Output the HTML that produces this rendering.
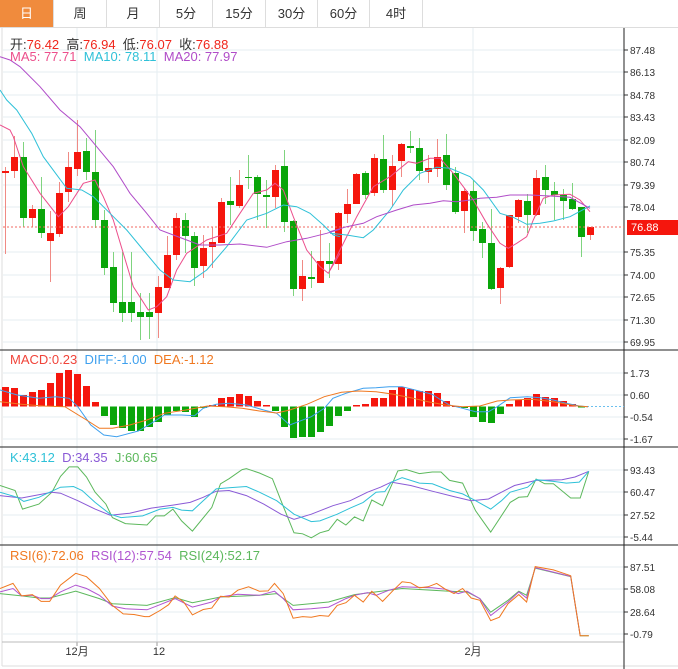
<!DOCTYPE html>
<html><head><meta charset="utf-8">
<style>
body{margin:0;background:#fff;width:678px;height:669px;overflow:hidden;font-family:"Liberation Sans","Noto Sans CJK SC",sans-serif;}
#wrap{position:relative;width:678px;height:669px;}
.tab{position:absolute;top:0;height:28px;line-height:28px;text-align:center;font-size:13px;color:#333;border-right:1px solid #ddd;border-bottom:1px solid #ddd;box-sizing:border-box;}
.lg{position:absolute;font-size:13px;white-space:nowrap;}
svg{position:absolute;left:0;top:0;}
</style></head><body><div id="wrap">
<svg id="s" width="678" height="669" xmlns="http://www.w3.org/2000/svg"></svg>
<div class="tab" style="left:0;width:54px;background:#f08b3d;color:#fff;">日</div>
<div class="tab" style="left:54px;width:53px;">周</div>
<div class="tab" style="left:107px;width:53px;">月</div>
<div class="tab" style="left:160px;width:53px;">5分</div>
<div class="tab" style="left:213px;width:53px;">15分</div>
<div class="tab" style="left:266px;width:52px;">30分</div>
<div class="tab" style="left:318px;width:52px;">60分</div>
<div class="tab" style="left:370px;width:53px;">4时</div>
<div class="tab" style="left:423px;width:255px;border-right:none;"></div>
<div class="lg" style="left:10px;top:34px;color:#333">开:<span style="color:#f0261c">76.42</span>&nbsp; 高:<span style="color:#f0261c">76.94</span>&nbsp; 低:<span style="color:#f0261c">76.07</span>&nbsp; 收:<span style="color:#f0261c">76.88</span></div>
<div class="lg" style="left:10px;top:49px;"><span style="color:#ec4f8c">MA5: 77.71</span>&nbsp;&nbsp;<span style="color:#2fc1d8">MA10: 78.11</span>&nbsp;&nbsp;<span style="color:#b04cc8">MA20: 77.97</span></div>
<div class="lg" style="left:10px;top:352px;"><span style="color:#f0443a">MACD:0.23</span>&nbsp;&nbsp;<span style="color:#3ea0ee">DIFF:-1.00</span>&nbsp;&nbsp;<span style="color:#f07820">DEA:-1.12</span></div>
<div class="lg" style="left:10px;top:450px;"><span style="color:#2fc1d8">K:43.12</span>&nbsp;&nbsp;<span style="color:#8a5ad6">D:34.35</span>&nbsp;&nbsp;<span style="color:#5cb85c">J:60.65</span></div>
<div class="lg" style="left:10px;top:548px;"><span style="color:#f07820">RSI(6):72.06</span>&nbsp;&nbsp;<span style="color:#b055d0">RSI(12):57.54</span>&nbsp;&nbsp;<span style="color:#5cb85c">RSI(24):52.17</span></div>
</div>
<script>
var s=document.getElementById('s'),h='';
function L(x1,y1,x2,y2,c,w,d){h+='<line x1="'+x1+'" y1="'+y1+'" x2="'+x2+'" y2="'+y2+'" stroke="'+c+'" stroke-width="'+(w||1)+'"'+(d?' stroke-dasharray="'+d+'"':'')+'/>';}
function R(x,y,w,hh,c){h+='<rect x="'+x+'" y="'+y+'" width="'+w+'" height="'+Math.max(hh,1)+'" fill="'+c+'"/>';}
function T(x,y,t,c,sz,a){h+='<text x="'+x+'" y="'+y+'" fill="'+(c||'#333')+'" font-size="'+(sz||10)+'" font-family="Liberation Sans,Noto Sans CJK SC,sans-serif"'+(a?' text-anchor="'+a+'"':'')+'>'+t+'</text>';}
function P(arr,sx,ox,sy,oy,c,w){var p=[];for(var i=0;i<arr.length;i+=2)p.push((arr[i]/sx+ox).toFixed(1)+','+(arr[i+1]/sy+oy).toFixed(1));h+='<polyline points="'+p.join(' ')+'" fill="none" stroke="'+c+'" stroke-width="'+(w||1)+'"/>';}
var G='#e6edf2';
L(2,28,2,666,'#ddd');L(2,666,678,666,'#ddd');
var mt=[[50,'87.48'],[72,'86.13'],[95,'84.78'],[117,'83.43'],[140,'82.09'],[162,'80.74'],[185,'79.39'],[207,'78.04'],[252,'75.35'],[275,'74.00'],[297,'72.65'],[320,'71.30'],[342,'69.95']];
mt.forEach(function(t){L(3,t[0],624,t[0],G);L(624,t[0],628,t[0],'#333');T(630,t[0]+4,t[1]);});
var md=[[373,'1.73'],[395,'0.60'],[417,'-0.54'],[439,'-1.67']];
md.forEach(function(t){L(3,t[0],624,t[0],G);L(624,t[0],628,t[0],'#333');T(630,t[0]+4,t[1]);});
var kd=[[470,'93.43'],[492,'60.47'],[515,'27.52'],[537,'-5.44']];
kd.forEach(function(t){L(3,t[0],624,t[0],G);L(624,t[0],628,t[0],'#333');T(630,t[0]+4,t[1]);});
var rs=[[567,'87.51'],[589,'58.08'],[612,'28.64'],[634,'-0.79']];
rs.forEach(function(t){L(3,t[0],624,t[0],G);L(624,t[0],628,t[0],'#333');T(630,t[0]+4,t[1]);});
[77,157,473].forEach(function(x){L(x,28,x,642,G);L(x,642,x,646,'#999');});
L(0,350,678,350,'#222');L(0,447,678,447,'#222');L(0,545,678,545,'#222');L(2,642,624,642,'#bbb');
L(624,28,624,669,'#222');
T(77,655,'12月','#333',11,'middle');T(159,655,'12','#333',11,'middle');T(473,655,'2月','#333',11,'middle');
var C=[['r',171,173,167,254],['r',157,171,136,178],['g',157,218,142,227],['r',209,218,205,227],['g',209,233,177,238],['r',233,241,211,282],['r',193,234,182,237],['r',167,192,152,202],['r',152,169,120,176],['g',151,172,138,180],
['g',172,220,130,228],['g',220,268,210,275],['g',267,303,252,312],['g',302,313,252,322],['g',302,313,252,322],['g',312,317,293,340],['g',312,317,293,339],['r',287,313,276,338],['r',255,288,236,288],['r',218,255,213,260],
['g',220,236,213,253],['g',236,268,232,286],['r',248,266,235,278],['r',242,247,227,268],['r',202,243,198,243],['g',201,205,177,225],['r',185,206,170,208],['g',177,178,155,189],['g',177,194,175,220],['g',195,197,180,228],
['r',170,197,165,208],['g',166,222,150,232],['g',221,289,220,296],['r',276,289,260,301],['g',277,279,251,288],['r',261,283,230,283],['g',261,264,243,278],['r',213,264,212,270],['r',204,214,189,223],['r',174,204,173,204],
['g',173,195,171,199],['r',158,193,154,196],['g',159,190,135,193],['r',166,190,155,206],['r',144,161,143,177],['g',146,148,131,153],['g',148,171,138,180],['r',168,172,155,183],['r',157,169,139,177],['g',155,185,134,190],
['g',173,212,167,214],['r',191,211,188,233],['g',191,231,180,241],['g',229,243,222,258],['g',243,289,209,290],['r',268,288,267,304],['r',215,267,215,268],['r',200,217,199,223],['g',201,215,194,233],['r',178,215,170,216],
['g',177,190,165,204],['g',191,195,182,220],['g',195,201,189,220],['g',199,209,183,210],['g',207,237,207,257],['r',227,235,227,240]];
C.forEach(function(c,i){var x=5+9*i;var col=c[0]=='r'?'#f5160d':'#0aa50a';var wc=c[0]=='r'?'#f08a84':'#7fd47f';L(x+0.5,c[3],x+0.5,c[4],wc);R(x-3,c[1],7,c[2]-c[1],col);});
L(3,227,624,227,'#f06a60',1,'2,2');
R(627,220,51,15,'#f5160d');T(631,231,'76.88','#fff',11);
P([0,45,30,60,40,80,70,170,120,250,175,320,205,290,250,220,285,210,310,260,340,330,370,430,400,530,445,600,470,590,500,560,530,480,560,430,620,390,680,370,720,310,760,250,800,240,825,220,850,240,880,320,920,420,960,470,985,490,1020,430],3,0,3,110,'#ec4f8c');
P([0,480,30,420,80,320,130,230,180,200,235,155,260,160,300,145,330,145,370,190,400,230,430,270,470,340,510,400,535,415,560,400,590,380,610,330,640,265,670,255,720,253,750,270,780,305],3,330,3,110,'#ec4f8c');
P([0,-60,20,-30,50,0,95,70,130,140,200,235,245,240,280,260,330,310,380,360,430,420,480,480,520,510,570,515,620,480,680,410,740,330,800,310,850,285,890,290,930,310,970,345,1000,375,1020,380],3,0,3,110,'#2fc1d8');
P([0,370,50,375,100,383,130,360,180,300,220,240,270,190,320,172,360,175,420,200,460,240,510,310,550,322,590,343,630,340,670,333,720,320,780,288],3,330,3,110,'#2fc1d8');
P([0,-160,30,-150,60,-130,120,-70,180,0,240,50,290,110,340,170,390,250,440,310,480,360,520,375,560,390,600,405,660,405,720,402,800,412,860,395,920,385,980,370,1020,358],3,0,3,110,'#b04cc8');
P([0,365,50,350,100,340,140,320,200,300,250,285,300,280,340,272,380,275,420,270,450,265,500,262,540,255,600,255,660,258,720,262,780,295],3,330,3,110,'#b04cc8');
var M=[387,388,395,392,390,383,373,370,374,386,402,416,425,428,431,431,427,422,415,411,412,417,408,405,398,397,394,396,401,405,411,427,438,437,437,432,426,416,411,405,404,398,398,390,387,389,391,391,393,401,406,408,417,422,423,414,404,400,398,394,397,398,401,404,407];
var Z=406.5;
M.forEach(function(y,i){var x=5+9*i-3;if(y<Z)R(x,y,7,Z-y,'#f5160d');else R(x,Z,7,y-Z,'#0aa50a');});
L(583,406.5,624,406.5,'#6cc0ee',1,'2,2');
var sx=2.313;
P([0,135,40,150,90,160,130,155,160,160,180,185,210,240,240,270,270,275,320,258,350,235,380,210,420,210,450,212,470,190,500,178,530,175,570,180,610,195,640,205,670,240,690,230,720,215,750,190,770,160,800,145,840,130,870,128,900,125,930,125,960,135,1000,148,1020,165,1040,180,1070,190,1100,200,1130,200,1150,185,1180,158,1220,155,1250,158,1280,165,1310,175,1340,183,1360,185],sx,0,3,345,'#3ea0ee');
P([0,170,50,178,100,183,150,185,200,225,230,250,260,250,300,240,340,225,380,205,430,195,480,183,520,185,560,190,600,198,640,204,670,195,710,178,750,155,790,142,830,138,870,140,910,148,950,158,990,170,1030,180,1070,185,1110,183,1150,168,1180,165,1230,163,1280,170,1330,182,1360,185],sx,0,3,345,'#f07820');
var ky=2.96;
P([0,105,35,120,52,175,90,160,120,125,140,78,160,50,180,50,200,80,220,125,245,160,260,200,290,218,340,222,360,195,380,195,400,175,420,210,445,240,490,170,510,100,530,85,560,58,570,55,600,68,630,85,650,150,680,245,700,248,720,260,740,245,760,238,780,205,800,222,820,198,840,210,860,148,885,165,920,62,940,58,970,70,1000,65,1020,65,1040,90,1070,98,1100,180,1135,243,1180,155,1200,140,1220,138,1240,86,1260,100,1280,100,1320,142,1342,142,1362,63],sx,0,ky,450,'#5cb85c');
P([0,135,50,142,120,125,140,128,180,150,220,175,255,193,300,187,350,172,400,163,440,155,470,140,500,122,530,120,570,135,610,160,650,190,680,205,720,190,770,165,810,150,850,125,880,110,905,95,950,105,1000,122,1050,138,1090,150,1130,145,1160,125,1190,105,1240,90,1300,88,1330,80,1362,63],sx,0,ky,450,'#8a5ad6');
P([0,125,40,140,55,152,90,140,115,125,140,110,170,108,190,120,220,155,255,190,280,200,330,195,370,175,400,170,420,178,445,180,470,150,500,115,530,112,570,108,600,125,640,150,680,190,720,212,740,210,780,190,810,172,840,155,870,125,890,123,905,95,930,82,970,98,1000,100,1040,120,1070,130,1100,150,1135,175,1160,150,1180,125,1220,110,1240,88,1280,93,1310,98,1340,95,1362,63],sx,0,ky,450,'#2fc1d8');
P([0,425,50,432,90,438,115,438,175,418,230,440,260,455,340,460,405,437,445,452,510,435,600,430,640,425,678,460,760,450,820,428,870,420,930,410,1040,418,1080,420,1110,440,1135,480,1175,445,1200,418,1218,430,1238,350,1320,375,1342,550,1362,550],sx,0,ky,450,'#5cb85c');
P([0,420,30,410,50,432,75,430,95,440,115,440,140,420,175,400,200,410,230,430,260,462,290,470,340,473,370,458,405,440,445,465,490,450,510,435,550,427,600,430,635,418,655,440,678,473,720,470,760,465,800,440,820,430,850,422,870,430,900,415,930,405,960,406,1000,408,1030,412,1060,425,1080,418,1110,440,1135,490,1175,450,1200,420,1218,438,1238,348,1320,374,1342,550],sx,0,ky,450,'#b055d0');
P([0,410,30,395,50,432,75,428,95,448,115,448,140,400,175,365,200,375,230,410,260,460,285,485,310,487,335,493,345,493,370,475,390,458,405,432,425,450,445,488,470,472,490,468,510,433,530,435,550,415,575,405,600,418,620,417,635,395,655,425,678,498,700,493,720,495,740,490,760,492,780,460,800,452,820,430,840,450,860,418,885,448,910,415,930,390,950,393,970,408,990,405,1010,395,1030,412,1050,425,1070,410,1090,438,1110,445,1135,505,1155,495,1175,455,1200,428,1218,450,1238,345,1280,355,1320,372,1342,550,1362,550],sx,0,ky,450,'#f07820');
s.innerHTML=h;
</script>
</body></html>
